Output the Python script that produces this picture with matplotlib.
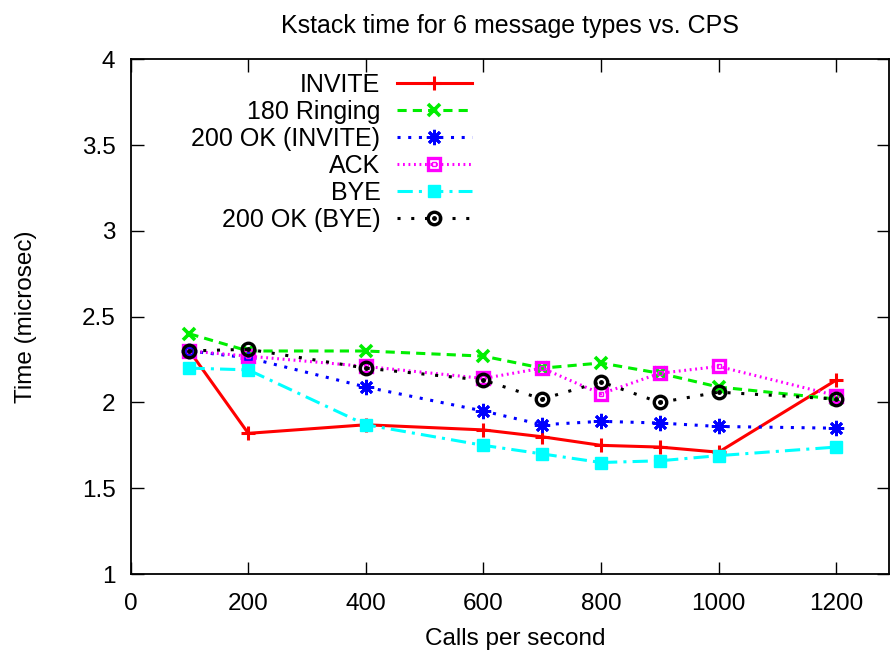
import numpy as np
import matplotlib.pyplot as plt
from matplotlib.legend_handler import HandlerTuple

plt.rcParams['font.family'] = ['Liberation Sans', 'DejaVu Sans']

# calls per second
cps = [100, 200, 400, 600, 700, 800, 900, 1000, 1200]

# kstack time in microseconds, one list per message type
invite = [2.30, 1.82, 1.87, 1.84, 1.80, 1.75, 1.74, 1.71, 2.13]
ringing = [2.40, 2.30, 2.30, 2.27, 2.20, 2.23, 2.17, 2.09, 2.02]
ok_invite = [2.30, 2.26, 2.09, 1.95, 1.87, 1.89, 1.88, 1.86, 1.85]
ack = [2.30, 2.27, 2.21, 2.14, 2.20, 2.05, 2.17, 2.21, 2.04]
bye = [2.20, 2.19, 1.87, 1.75, 1.70, 1.65, 1.66, 1.69, 1.74]
ok_bye = [2.30, 2.31, 2.20, 2.13, 2.02, 2.12, 2.00, 2.06, 2.02]

fig = plt.figure(figsize=(8.94, 6.57), dpi=100)
ax = fig.add_axes([0.1462, 0.1263, 0.9944 - 0.1462, 0.9097 - 0.1263])

lw = 2.2
ms = 9
h1, = ax.plot(cps, invite, color='#ff0000', lw=lw, marker='+', ms=ms + 1, mew=2.2)
h2, = ax.plot(cps, ringing, color='#00ee00', lw=lw, ls=(0, (3, 2)), marker='x', ms=ms, mew=2.6)
h3, = ax.plot(cps, ok_invite, color='#0000ff', lw=lw, ls=(0, (1, 2.5)), marker=(8, 2, 0),
              ms=ms + 2, mew=2.0)
h4, = ax.plot(cps, ack, color='#ff00ff', lw=lw, ls=(0, (0.6, 1.2)), marker='s', ms=ms, mew=2.4,
              mfc='none')
h4b, = ax.plot(cps, ack, ls='none', color='#ff00ff', marker='s', ms=3, mew=1, mfc='none')
h5, = ax.plot(cps, bye, color='#00ffff', lw=lw, ls=(0, (5, 2, 1, 2)), marker='s', ms=ms)
h6, = ax.plot(cps, ok_bye, color='black', lw=lw, ls=(0, (1, 3.5)), marker='o', ms=ms, mew=2.4,
              mfc='none')
h6b, = ax.plot(cps, ok_bye, ls='none', color='black', marker='o', ms=2.5)

ax.set_xlim(0, 1290)
ax.set_ylim(1, 4)
ax.set_xticks([0, 200, 400, 600, 800, 1000, 1200])
ax.set_yticks([1, 1.5, 2, 2.5, 3, 3.5, 4])
ax.set_yticklabels(['1', '1.5', '2', '2.5', '3', '3.5', '4'])
ax.tick_params(direction='in', length=9, width=1, top=True, right=True, labelsize=17.5)
ax.tick_params(axis='x', pad=14)
ax.tick_params(axis='y', pad=11)
for s in ax.spines.values():
    s.set_linewidth(1.3)

ax.set_title('Kstack time for 6 message types vs. CPS', fontsize=18, pad=19)
ax.set_xlabel('Calls per second', fontsize=17.5)
ax.set_ylabel('Time (microsec)', fontsize=17.5)
ax.xaxis.set_label_coords(0.507, -0.104)
ax.yaxis.set_label_coords(-0.124, 0.5)

ax.legend([h1, h2, h3, (h4, h4b), h5, (h6, h6b)],
          ['INVITE', '180 Ringing', '200 OK (INVITE)', 'ACK', 'BYE', '200 OK (BYE)'],
          handler_map={tuple: HandlerTuple(ndivide=1, pad=0)},
          loc='upper right', bbox_to_anchor=(0.45, 0.973), markerfirst=False, frameon=False,
          fontsize=18, handlelength=3.0, labelspacing=0.12, handletextpad=0.66,
          borderaxespad=0, borderpad=0)

plt.savefig('out.png')
